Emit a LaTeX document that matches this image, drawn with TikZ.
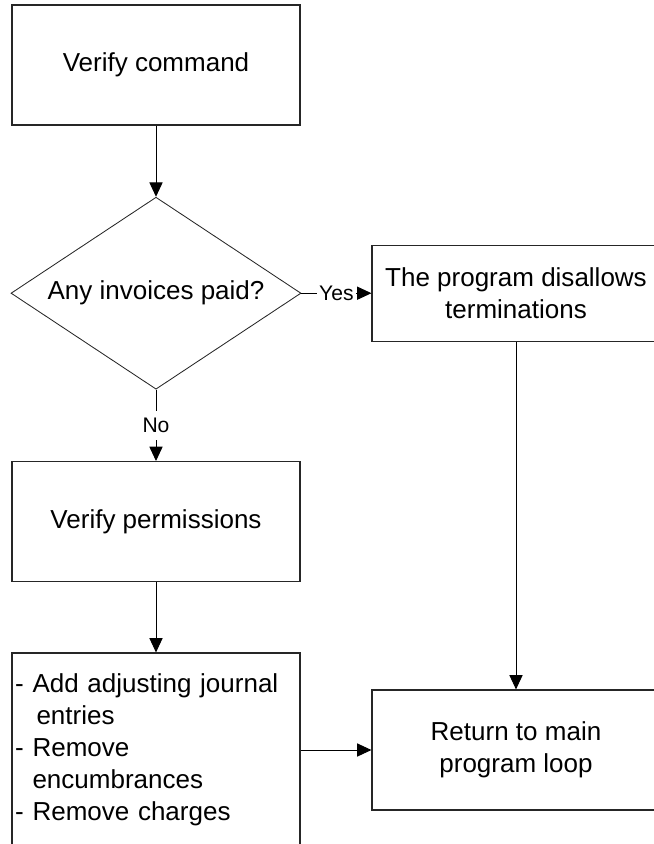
\documentclass[tikz,border=0pt]{standalone}
\usepackage{fontspec}
\setmainfont{Liberation Sans}
\usetikzlibrary{arrows.meta, positioning, shapes.geometric}

\begin{document}
\begin{tikzpicture}[
    box/.style={rectangle, draw=black!85, line width=0.8pt, minimum width=7.2cm, minimum height=3cm, align=center, font=\fontsize{18.5}{22.8}\selectfont},
    decision/.style={diamond, aspect=1.5, draw=black!85, line width=0.6pt, minimum width=7.25cm, minimum height=4.8cm, inner sep=0, font=\fontsize{18.5}{22.8}\selectfont},
    flowlabel/.style={fill=white, inner xsep=1.5pt, inner ysep=5pt, font=\fontsize{15}{18}\selectfont},
    >={Triangle[length=0.36cm, width=0.33cm]}, line width=0.7pt
]
  \useasboundingbox (0,0) rectangle (16.35,-21.1);

  % Left column
  \node[box] (cmd) at (3.9, -1.625) {Verify command};
  \node[decision] (paid) at (3.9, -7.33) {Any invoices paid?};
  \node[box] (perm) at (3.9, -13.04) {Verify permissions};
  \node[box, minimum height=4.85cm, text width=7.04cm, inner xsep=0.08cm, align=left] (adjust) at (3.9, -18.75)
    {- Add adjusting journal\\ \phantom{- }\hspace{0.1cm}entries\\ - Remove\\ \phantom{- }encumbrances\\ - Remove charges};

  % Right column
  \node[box, minimum height=2.4cm] (deny) at (12.9, -7.33) {The program disallows\\terminations};
  \node[box] (ret) at (12.9, -18.75) {Return to main\\program loop};

  % Connections
  \draw[->] (cmd) -- (paid);
  \draw[->] (paid) -- node[flowlabel] {Yes} (deny);
  \draw[->] (paid) -- node[flowlabel] {No} (perm);
  \draw[->] (perm) -- (adjust);
  \draw[->] (deny) -- (ret);
  \draw[->] (adjust) -- (ret);
\end{tikzpicture}
\end{document}
